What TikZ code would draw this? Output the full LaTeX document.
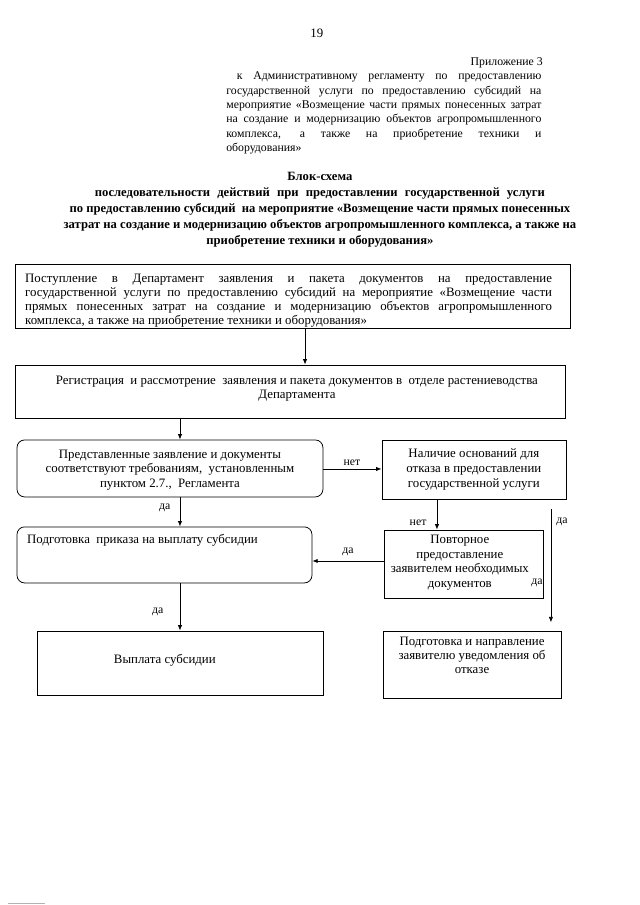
\documentclass[tikz,border=0pt]{standalone}
\usepackage{fontspec}
\setmainfont{Liberation Serif}
\usetikzlibrary{arrows.meta}
\newcommand{\jl}[2]{\makebox[#1][s]{#2}}

\begin{document}
\begin{tikzpicture}[>={Latex[length=5pt,width=4pt]}]
\tikzstyle{boxi}=[rectangle,draw,line width=0.7pt,inner sep=0pt]
\tikzstyle{roundi}=[boxi,rounded corners=0.25cm]
\tikzstyle{txt}=[inner sep=0pt,align=center,font=\fontsize{12}{14}\selectfont]
\tikzstyle{lbl}=[inner sep=0pt,font=\fontsize{11}{13}\selectfont]
\tikzstyle{link}=[->,line width=0.7pt]
\useasboundingbox (0,0) rectangle (21,-29.7);
% header
\node [txt] (num) at (10.40,-1.08) {19};
\node [txt,anchor=east,font=\fontsize{11}{13}\selectfont] (appx) at (17.82,-2.07) {Приложение 3};
\node [txt,align=left,anchor=north west,font=\fontsize{11}{13.4}\selectfont] (appxtext) at (7.42,-2.36)
{\jl{10.34cm}{\ к Административному регламенту по предоставлению}\\
\jl{10.34cm}{государственной услуги по предоставлению субсидий на}\\
\jl{10.34cm}{мероприятие «Возмещение части прямых понесенных затрат}\\
\jl{10.34cm}{на создание и модернизацию объектов агропромышленного}\\
\jl{10.34cm}{комплекса, а также на приобретение техники и}\\
оборудования»};
\node [txt,anchor=north,font=\bfseries\fontsize{11.8}{14.9}\selectfont] (title) at (10.5,-5.64)
{Блок-схема\\
\jl{14.77cm}{последовательности действий при предоставлении государственной услуги}\\
по предоставлению субсидий\ \ на мероприятие «Возмещение части прямых понесенных\\
затрат на создание и модернизацию объектов агропромышленного комплекса, а также на\\
приобретение техники и оборудования»};
% boxes
\node [boxi,minimum width=18.21cm,minimum height=2.10cm] (b1) at (9.598,-9.713) {};
\node [boxi,minimum width=18.05cm,minimum height=1.74cm] (b2) at (9.516,-12.846) {};
\node [roundi,minimum width=10.04cm,minimum height=1.87cm] (b3) at (5.578,-15.373) {};
\node [boxi,minimum width=6.04cm,minimum height=1.94cm] (b4) at (15.553,-15.406) {};
\node [roundi,minimum width=9.68cm,minimum height=1.84cm] (b5) at (5.398,-18.211) {};
\node [boxi,minimum width=5.22cm,minimum height=2.23cm] (b6) at (15.209,-18.506) {};
\node [boxi,minimum width=5.87cm,minimum height=2.17cm] (b7) at (15.504,-21.820) {};
\node [boxi,minimum width=9.38cm,minimum height=2.13cm] (b8) at (5.906,-21.771) {};
% box texts
\node [txt,align=left,anchor=north west,font=\fontsize{12}{13.1}\selectfont] (t1) at (0.82,-9.0)
{\jl{17.29cm}{Поступление в Департамент заявления и пакета документов на предоставление}\\
\jl{17.29cm}{государственной услуги по предоставлению субсидий на мероприятие «Возмещение части}\\
\jl{17.29cm}{прямых понесенных затрат на создание и модернизацию объектов агропромышленного}\\
комплекса, а также на приобретение техники и оборудования»};
\node [txt,anchor=north,font=\fontsize{12}{13}\selectfont] (t2) at (9.745,-12.33)
{Регистрация\ \ и рассмотрение\ \ заявления и пакета документов в\ \ отделе растениеводства\\
Департамента};
\node [txt,font=\fontsize{12}{13.5}\selectfont] (t3) at (5.578,-15.42)
{Представленные заявление и документы\\
соответствуют требованиям,\ \ установленным\\
пунктом 2.7.,\ \ Регламента};
\node [txt] (t4) at (15.55,-15.42)
{Наличие оснований для\\
отказа в предоставлении\\
государственной услуги};
\node [txt,anchor=west] (t5) at (0.886,-17.72) {Подготовка\ \ приказа на выплату субсидии};
\node [txt,font=\fontsize{12}{13.7}\selectfont] (t6) at (15.09,-18.47)
{Повторное\\
предоставление\\
заявителем необходимых\\
документов};
\node [txt,font=\fontsize{12}{12.7}\selectfont] (t7) at (15.49,-21.51)
{Подготовка и направление\\
заявителю уведомления об\\
отказе};
\node [txt] (t8) at (5.41,-21.66) {Выплата субсидии};
% connectors
\coordinate (xa) at (10.01,0);
\coordinate (xl) at (5.906,0);
\coordinate (xr) at (14.34,0);
\coordinate (yn) at (0,-15.39);
\coordinate (yd) at (0,-18.41);
\coordinate (yesstart) at (18.08,-16.70);
\draw [link] (b1.south -| xa) -- (b2.north -| xa);
\draw [link] (b2.south -| xl) -- (b3.north -| xl);
\draw [link] (b3.east |- yn) -- (b4.west |- yn);
\draw [link] (b3.south -| xl) -- (b5.north -| xl);
\draw [link] (b4.south -| xr) -- (b6.north -| xr);
\draw [link] (b6.west |- yd) -- (b5.east |- yd);
\draw [link,shorten >=0.3cm] (yesstart) -- (b7.north -| yesstart);
\draw [link] (b5.south -| xl) -- (b8.north -| xl);
% labels
\node [lbl] (no1) at (11.55,-15.19) {нет};
\node [lbl] (yes1) at (5.41,-16.67) {да};
\node [lbl] (no2) at (13.72,-17.16) {нет};
\node [lbl] (yes2) at (11.42,-18.11) {да};
\node [lbl] (yes3) at (18.44,-17.13) {да};
\node [lbl] (yes4) at (17.62,-19.13) {да};
\node [lbl] (yes5) at (5.18,-20.08) {да};
\draw [gray!60,line width=1pt] (0.27,-29.64) -- (1.48,-29.64);
\end{tikzpicture}
\end{document}
